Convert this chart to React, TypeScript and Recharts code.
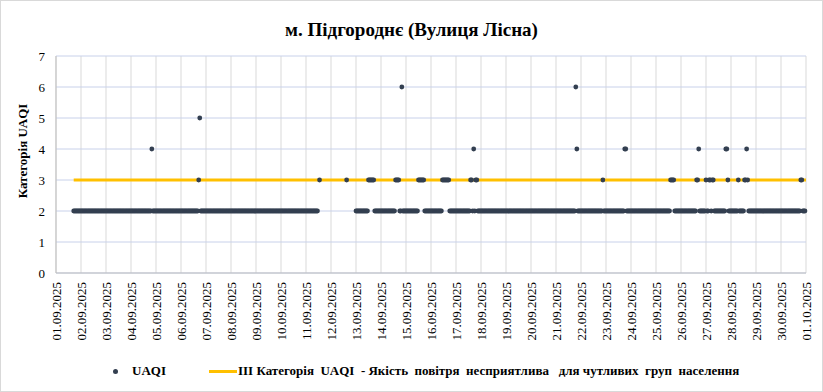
import React from 'react';
import {
  CartesianGrid,
  ComposedChart,
  Line,
  Scatter,
  XAxis,
  YAxis
} from 'recharts';

// hourly UAQI category, stored as runs: [first hour, last hour, category]
// hour 0 = 01.09.2025 00:00
const uaqiRuns: [number, number, number][] = [
  [17, 91, 2],
  [92, 92, 4],
  [93, 136, 2],
  [137, 137, 3],
  [138, 138, 5],
  [139, 251, 2],
  [253, 253, 3],
  [279, 279, 3],
  [288, 299, 2],
  [300, 305, 3],
  [306, 325, 2],
  [326, 329, 3],
  [330, 331, 2],
  [332, 332, 6],
  [333, 347, 2],
  [348, 353, 3],
  [354, 370, 2],
  [371, 377, 3],
  [378, 397, 2],
  [398, 399, 3],
  [400, 400, 2],
  [401, 401, 4],
  [402, 402, 2],
  [403, 404, 3],
  [405, 498, 2],
  [499, 499, 6],
  [500, 500, 4],
  [501, 524, 2],
  [525, 525, 3],
  [526, 545, 2],
  [546, 547, 4],
  [548, 589, 2],
  [590, 593, 3],
  [594, 614, 2],
  [615, 616, 3],
  [617, 617, 4],
  [618, 623, 2],
  [624, 624, 3],
  [625, 626, 2],
  [627, 628, 3],
  [629, 629, 2],
  [630, 631, 3],
  [632, 642, 2],
  [643, 644, 4],
  [645, 645, 3],
  [646, 654, 2],
  [655, 655, 3],
  [656, 660, 2],
  [661, 662, 3],
  [663, 663, 4],
  [664, 664, 3],
  [665, 714, 2],
  [715, 716, 3],
  [717, 719, 2]
];

const thresholdHours = [17, 720];
const thresholdLevel = 3;

const dateLabels = [
  '01.09.2025', '02.09.2025', '03.09.2025', '04.09.2025', '05.09.2025',
  '06.09.2025', '07.09.2025', '08.09.2025', '09.09.2025', '10.09.2025',
  '11.09.2025', '12.09.2025', '13.09.2025', '14.09.2025', '15.09.2025',
  '16.09.2025', '17.09.2025', '18.09.2025', '19.09.2025', '20.09.2025',
  '21.09.2025', '22.09.2025', '23.09.2025', '24.09.2025', '25.09.2025',
  '26.09.2025', '27.09.2025', '28.09.2025', '29.09.2025', '30.09.2025',
  '01.10.2025'
];
const yTicks = [0, 1, 2, 3, 4, 5, 6, 7];

const uaqiPoints: { hour: number; cat: number }[] = [];
uaqiRuns.forEach(([from, to, cat]) => {
  for (let h = from; h <= to; h++) uaqiPoints.push({ hour: h, cat });
});
const thresholdData = thresholdHours.map((hour) => ({ hour, cat: thresholdLevel }));
const xTicks = dateLabels.map((_, i) => i * 24);

const FONT = '"Liberation Serif", "Times New Roman", serif';
const DOT = '#333f50';
const GOLD = '#ffc000';

const DateTick = (props: any) => {
  const { x, y, payload } = props;
  const label = dateLabels[Math.round(payload.value / 24)];
  return (
    <text
      x={x}
      y={y}
      dy="0.35em"
      transform={`rotate(-90, ${x}, ${y})`}
      textAnchor="end"
      fontFamily={FONT}
      fontSize={13}
      fill="#000"
    >
      {label}
    </text>
  );
};

const Dot = (props: any) => <circle cx={props.cx} cy={props.cy} r={2.4} fill={DOT} />;

const App: React.FC = () => (
  <div
    style={{
      position: 'relative',
      width: 821,
      height: 390,
      border: '1px solid #d9d9d9',
      background: '#fff',
      fontFamily: FONT
    }}
  >
    <style>{'body{margin:0}'}</style>
    <div
      style={{
        position: 'absolute',
        top: 18,
        left: 0,
        width: 821,
        textAlign: 'center',
        fontSize: 19,
        fontWeight: 'bold',
        color: '#000'
      }}
    >
      м. Підгороднє (Вулиця Лісна)
    </div>
    <div
      style={{
        position: 'absolute',
        left: 22,
        top: 150,
        transform: 'translate(-50%, -50%) rotate(-90deg)',
        whiteSpace: 'nowrap',
        fontSize: 13,
        fontWeight: 'bold',
        color: '#000'
      }}
    >
      Категорія UAQI
    </div>
    <div style={{ position: 'absolute', left: -1, top: -1 }}>
      <ComposedChart
        width={823}
        height={392}
        margin={{ top: 56, right: 17, left: 10, bottom: 39 }}
      >
        <CartesianGrid horizontal={false} stroke="#d9d9d9" />
        <CartesianGrid vertical={false} stroke="#c8d1ea" />
        <XAxis
          type="number"
          dataKey="hour"
          domain={[0, 720]}
          ticks={xTicks}
          interval={0}
          height={80}
          tick={<DateTick />}
          tickLine={false}
          tickSize={0}
          tickMargin={9}
          axisLine={{ stroke: '#bfbfbf' }}
        />
        <YAxis
          type="number"
          dataKey="cat"
          domain={[0, 7]}
          ticks={yTicks}
          width={46}
          tickLine={false}
          tickSize={0}
          tickMargin={11}
          axisLine={{ stroke: '#bfbfbf' }}
          tick={{ fill: '#000', fontSize: 13, fontFamily: FONT }}
        />
        <Line
          data={thresholdData}
          dataKey="cat"
          stroke={GOLD}
          strokeWidth={3}
          dot={false}
          activeDot={false}
          isAnimationActive={false}
        />
        <Scatter
          data={uaqiPoints}
          dataKey="cat"
          shape={<Dot />}
          isAnimationActive={false}
        />
      </ComposedChart>
    </div>
    <div
      style={{
        position: 'absolute',
        top: 361,
        left: 0,
        fontSize: 13,
        fontWeight: 'bold',
        color: '#000',
        whiteSpace: 'pre',
        lineHeight: '18px'
      }}
    >
      <span
        style={{
          position: 'absolute',
          left: 112,
          top: 7,
          width: 5,
          height: 5,
          borderRadius: '50%',
          background: DOT
        }}
      />
      <span style={{ position: 'absolute', left: 131, top: 0 }}>UAQI</span>
      <span
        style={{
          position: 'absolute',
          left: 208,
          top: 8,
          width: 28,
          height: 3,
          background: GOLD
        }}
      />
      <span style={{ position: 'absolute', left: 237, top: 0 }}>
        {'III Категорія  UAQI  - Якість  повітря  несприятлива   для чутливих  груп  населення'}
      </span>
    </div>
  </div>
);

export default App;
